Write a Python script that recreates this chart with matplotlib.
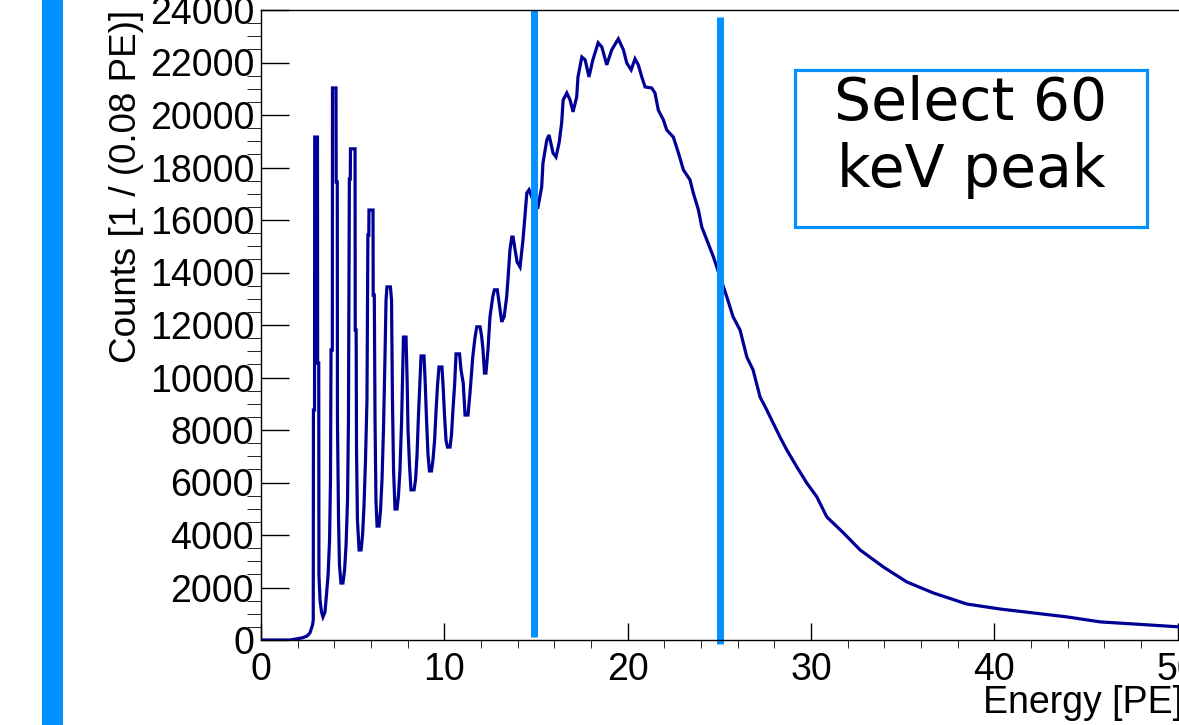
import numpy as np
import matplotlib
matplotlib.use("Agg")
import matplotlib.pyplot as plt
from matplotlib.patches import Rectangle

# spectrum: energy in PE, counts per 0.08 PE bin
energy = [0.0, 1.58, 1.91, 2.24, 2.51, 2.67, 2.81, 2.85,
          2.86, 2.92, 2.93, 3.08, 3.09, 3.15, 3.16, 3.22, 3.30, 3.38, 3.49, 3.57, 3.66, 3.74, 3.79, 3.82, 3.89,
          3.90, 4.09, 4.10, 4.16, 4.17, 4.23, 4.28, 4.36, 4.47, 4.56, 4.64, 4.72, 4.77, 4.82, 4.87,
          4.88, 5.13, 5.14, 5.19, 5.21, 5.26, 5.35, 5.46, 5.54, 5.62, 5.70, 5.78, 5.83, 5.88,
          5.89, 6.11, 6.12, 6.18, 6.22, 6.27, 6.33, 6.44, 6.52, 6.60, 6.68, 6.76, 6.82,
          6.87, 7.06, 7.12, 7.17, 7.23, 7.31, 7.42, 7.50, 7.58, 7.67, 7.72,
          7.77, 7.91, 7.97, 8.02, 8.10, 8.18, 8.35, 8.43, 8.51, 8.59, 8.67,
          8.73, 8.89, 8.95, 9.03, 9.11, 9.19, 9.30, 9.38, 9.47, 9.55, 9.63,
          9.71, 9.87, 9.93, 10.01, 10.09, 10.17, 10.31, 10.39, 10.47, 10.56,
          10.64, 10.83, 10.91, 11.03, 11.13, 11.29, 11.40, 11.55, 11.67,
          11.77, 11.95, 12.04, 12.11, 12.19, 12.27, 12.38, 12.49, 12.64,
          12.73, 12.89, 12.98, 13.13, 13.26, 13.40, 13.48, 13.58,
          13.68, 13.75, 13.86, 13.97, 14.13, 14.29, 14.50, 14.62, 14.73, 14.95,
          15.11, 15.31, 15.38, 15.59, 15.71, 15.93, 16.09, 16.26, 16.40, 16.48,
          16.68, 16.86, 17.02, 17.22, 17.29, 17.50, 17.68, 17.89, 18.10, 18.39,
          18.59, 18.86, 19.13, 19.49, 19.77, 19.95, 20.19, 20.40, 20.58, 20.77,
          20.95, 21.31, 21.49, 21.67, 21.95, 22.13, 22.49, 22.77, 23.04, 23.40,
          23.58, 23.86, 24.04, 24.32, 24.68, 25.04, 25.41, 25.75, 26.13, 26.50,
          26.84, 27.22, 27.59, 27.93, 28.31, 28.68, 29.23, 29.77, 30.32, 30.86,
          31.77, 32.68, 33.95, 35.23, 36.68, 38.50, 40.32, 42.13, 43.96, 45.77,
          47.59, 50.08, 51.0]
counts = [0, 0, 40, 80, 150, 270, 570, 760,
          8760, 8760, 19160, 19160, 10550, 10550, 2480, 1520, 1070, 880, 1070, 1710, 2480, 3810, 6100, 11050, 11050,
          21030, 21030, 17450, 17450, 8380, 4570, 2860, 2170, 2170, 2670, 3620, 5330, 8380, 17560, 17560,
          18710, 18710, 11810, 11810, 7240, 4570, 3430, 3430, 4000, 5140, 6860, 9140, 15430, 15430,
          16380, 16380, 13140, 13140, 8380, 5330, 4340, 4340, 4950, 6100, 8000, 10670, 12950,
          13450, 13450, 12950, 9140, 6480, 4990, 4990, 5520, 6480, 8380, 9910,
          11540, 11540, 9910, 8000, 6670, 5720, 5720, 6100, 7050, 8570, 9910,
          10820, 10820, 9910, 8380, 7050, 6440, 6440, 6860, 7620, 8760, 9720,
          10400, 10400, 9720, 8570, 7620, 7350, 7350, 7810, 8760, 9720,
          10900, 10900, 10290, 9790, 8570, 8570, 9410, 10780, 11510,
          11930, 11930, 11540, 11050, 10170, 10170, 11050, 12310, 13070,
          13340, 13340, 12880, 12120, 12310, 13070, 13830, 14860,
          15350, 15350, 14860, 14400, 14210, 15240, 17030, 17150, 16950, 16570,
          16500, 17260, 18170, 19050, 19240, 18550, 18400, 18940, 19700, 20570,
          20840, 20570, 20120, 20690, 21450, 22210, 22100, 21450, 22100, 22750,
          22590, 21910, 22480, 22900, 22480, 21980, 21720, 22140, 21910, 21450,
          21070, 21030, 20840, 20190, 19810, 19430, 19160, 18550, 17910, 17530,
          17030, 16380, 15740, 15240, 14590, 13830, 13070, 12310, 11810, 10780,
          10290, 9260, 8760, 8270, 7730, 7240, 6590, 5980, 5450, 4690,
          4080, 3430, 2780, 2210, 1790, 1370, 1180, 1030, 880, 690,
          610, 500, 480]

# hand drawn selection window
cut_energy = [14.87, 25.04]
cut_top = [24000, 23730]
cut_bottom = [130, -150]

box_text = ["Select 60", "keV peak"]

blue = "#0090ff"
W, H = 1179, 725

plt.rcParams["font.family"] = ["Liberation Sans", "DejaVu Sans"]
fig = plt.figure(figsize=(W / 100, H / 100), dpi=100)
fig.patch.set_facecolor("white")

ax = fig.add_axes([261 / W, 1 - 640 / H, 1100 / W, 630 / H])
ax.plot(energy, counts, color="#000096", lw=2.3, solid_joinstyle="miter")
ax.set_xlim(0, 60)
ax.set_ylim(0, 24000)

ax.set_xticks(np.arange(0, 61, 10))
ax.set_xticks(np.arange(0, 61, 2), minor=True)
ax.set_yticks(np.arange(0, 24001, 2000))
ax.set_yticks(np.arange(0, 24001, 500), minor=True)
ax.tick_params(axis="both", direction="in", labelsize=27, width=1.0, colors="black")
ax.tick_params(axis="y", which="major", length=20, pad=5)
ax.tick_params(axis="y", which="minor", length=10)
ax.tick_params(axis="x", which="major", length=12.5, pad=8.5)
ax.tick_params(axis="x", which="minor", length=6)
for s in ax.spines.values():
    s.set_linewidth(1.0)

ax.set_ylabel("Counts [1 / (0.08 PE)]", fontsize=26.5, loc="top", labelpad=4)

# selection lines
for e, t, b in zip(cut_energy, cut_top, cut_bottom):
    ax.plot([e, e], [b, t], color=blue, lw=5, solid_capstyle="butt", clip_on=False)

fig.text(1183 / W, 12 / H, "Energy [PE]", fontsize=27, ha="right", va="baseline")

# annotation box
fig.add_artist(Rectangle((795 / W, 1 - 227 / H), 352 / W, 157 / H, transform=fig.transFigure,
                         fill=False, edgecolor=blue, lw=2.3))
fig.text(971 / W, 1 - 120 / H, box_text[0], fontsize=42, ha="center", va="baseline", family="DejaVu Sans")
fig.text(971 / W, 1 - 187 / H, box_text[1], fontsize=42, ha="center", va="baseline", family="DejaVu Sans")

# slide bar on the left
fig.add_artist(Rectangle((42 / W, 0), 21 / W, 1, transform=fig.transFigure, color=blue, lw=0))

fig.savefig("out.png", dpi=100)
